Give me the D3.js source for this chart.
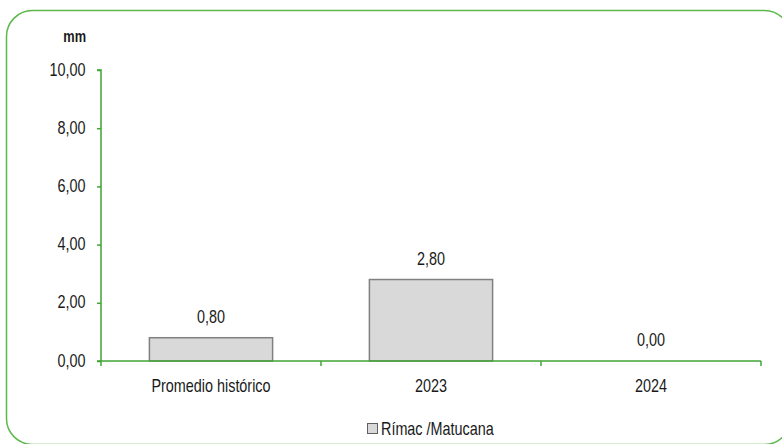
<!DOCTYPE html>
<html>
<head>
<meta charset="utf-8">
<script src="https://cdn.jsdelivr.net/npm/d3@7"></script>
<style>
  body { margin: 0; background: #fff; }
  svg text { font-family: "Liberation Sans", Arial, sans-serif; fill: #1a1a1a; }
</style>
</head>
<body>
<svg id="chart" width="782" height="444"></svg>
<script>
// data
var categories = ["Promedio histórico", "2023", "2024"];
var values = [0.80, 2.80, 0.00];
var seriesName = "Rímac /Matucana";
var yTicks = [0, 2, 4, 6, 8, 10];
var unitLabel = "mm";

var svg = d3.select("#chart");
var margin = {left: 101, right: 21, top: 70, bottom: 83};
var width = 782, height = 444;
var narrow = 0.8; // fake a narrow font by squeezing horizontally

// rounded border
svg.append("rect")
    .attr("x", 6.5).attr("y", 10.5)
    .attr("width", 784).attr("height", 434)
    .attr("rx", 26).attr("ry", 26)
    .attr("fill", "none")
    .attr("stroke", "#5cb84a")
    .attr("stroke-width", 1.5);

var x = d3.scaleBand()
    .domain(categories)
    .range([margin.left, width - margin.right])
    .paddingInner(0.44)
    .paddingOuter(0.22);

var y = d3.scaleLinear()
    .domain([0, 10])
    .range([height - margin.bottom, margin.top]);

var fmt = function(v){ return d3.format(".2f")(v).replace(".", ","); };

// y axis
var yAxis = d3.axisLeft(y).tickValues(yTicks).tickSize(4).tickPadding(11).tickFormat(fmt);
var gy = svg.append("g")
    .attr("transform", `translate(${margin.left},0)`)
    .call(yAxis);
gy.select(".domain").attr("stroke", "#3fa535").attr("stroke-width", 1.5)
    .attr("d", `M-4,${y(10)}H0V${y(0)}`);
gy.selectAll(".tick line").attr("stroke", "#3fa535").attr("stroke-width", 1.5);
gy.selectAll(".tick text")
    .attr("font-size", 18).attr("font-family", null)
    .attr("x", 0).attr("dy", "0.28em")
    .attr("transform", `translate(-15.5,0) scale(${narrow},1)`);

// bars
svg.selectAll(".bar")
    .data(values)
    .join("rect")
    .attr("class", "bar")
    .attr("x", (d, i) => x(categories[i]))
    .attr("y", d => y(d))
    .attr("width", x.bandwidth())
    .attr("height", d => y(0) - y(d))
    .attr("fill", "#d9d9d9")
    .attr("stroke", "#808080")
    .attr("stroke-width", 1.5);

// x axis
var step = (width - margin.right - margin.left) / categories.length;
var gx = svg.append("g").attr("transform", `translate(0,${y(0)})`);
gx.append("line")
    .attr("x1", margin.left - 4).attr("x2", width - margin.right)
    .attr("stroke", "#3fa535").attr("stroke-width", 1.5);
gx.selectAll(".xtick")
    .data(d3.range(categories.length + 1))
    .join("line")
    .attr("class", "xtick")
    .attr("x1", i => margin.left + i * step)
    .attr("x2", i => margin.left + i * step)
    .attr("y1", 0).attr("y2", 5)
    .attr("stroke", "#3fa535").attr("stroke-width", 1.5);
gx.selectAll(".xlabel")
    .data(categories)
    .join("text")
    .attr("class", "xlabel")
    .attr("transform", d => `translate(${x(d) + x.bandwidth() / 2},31) scale(${narrow},1)`)
    .attr("text-anchor", "middle")
    .attr("font-size", 18)
    .text(d => d);

// value labels
svg.selectAll(".vlabel")
    .data(values)
    .join("text")
    .attr("class", "vlabel")
    .attr("transform", (d, i) => `translate(${x(categories[i]) + x.bandwidth() / 2},${y(d) - 15}) scale(${narrow},1)`)
    .attr("text-anchor", "middle")
    .attr("font-size", 18)
    .text(d => fmt(d));

// unit label
svg.append("text")
    .attr("transform", `translate(86,42) scale(${narrow},1)`)
    .attr("text-anchor", "end")
    .attr("font-size", 16)
    .attr("font-weight", "bold")
    .text(unitLabel);

// legend
var lg = svg.append("g").attr("transform", "translate(367,423)");
lg.append("rect")
    .attr("x", 0.5).attr("y", 0.5).attr("width", 10).attr("height", 10)
    .attr("fill", "#d9d9d9").attr("stroke", "#606060").attr("stroke-width", 1);
lg.append("text")
    .attr("transform", `translate(14,12) scale(${narrow},1)`)
    .attr("font-size", 18)
    .text(seriesName);
</script>
</body>
</html>
